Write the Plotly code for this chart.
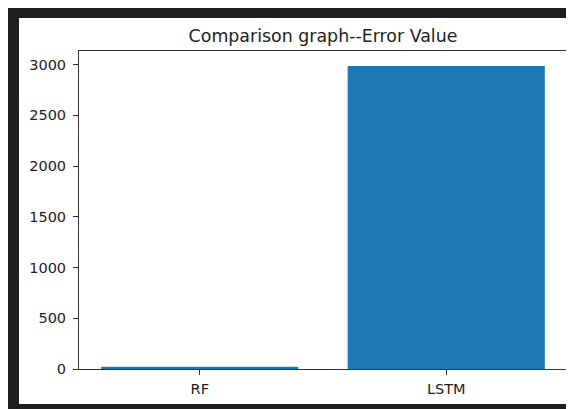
import plotly.graph_objects as go

# Data
models = ["RF", "LSTM"]
error_values = [22, 2985]
y_ticks = [0, 500, 1000, 1500, 2000, 2500, 3000]

# Figure placed at (8, 8) in the page by the default body margin
W, H = 566, 401
L, R, T, B = 71, 559, 43, 361  # plot area in figure pixels

def px_x(x):
    return (x - L) / (R - L)

def px_y(y):
    return (B - y) / (B - T)

fig = go.Figure()
fig.add_trace(go.Bar(
    x=models, y=error_values,
    marker=dict(color="#1f77b4", line=dict(width=0)),
    width=0.8,
))

shapes = []
def rect(x0, y0, x1, y1, color):
    shapes.append(dict(type="rect", xref="paper", yref="paper",
                       x0=px_x(x0), x1=px_x(x1), y0=px_y(y1), y1=px_y(y0),
                       fillcolor=color, line=dict(width=0), layer="below"))

dark = "#1e1e1e"
# dark frame around the picture
rect(0, 0, W, 10, dark)
rect(0, 0, 11, H, dark)
rect(0, 396, W, H, dark)

tick_font = dict(size=14.5, family="DejaVu Sans", color="#222222")

fig.update_layout(
    width=W, height=H,
    margin=dict(l=L, r=W - R, t=T, b=H - B, pad=0),
    paper_bgcolor="white",
    plot_bgcolor="white",
    showlegend=False,
    shapes=shapes,
    font=dict(family="DejaVu Sans", color="#222222", size=14),
    title=dict(text="Comparison graph--Error Value",
               font=dict(family="DejaVu Sans", size=17.4, color="#222222"),
               x=0.5, xref="paper", xanchor="center",
               y=1 - 28 / H, yref="container", yanchor="middle"),
    xaxis=dict(
        range=[-0.49, 1.49],
        showgrid=False, zeroline=False,
        showline=True, linecolor="#333333", linewidth=1, mirror=True,
        ticks="outside", ticklen=5, tickcolor="#333333",
        ticklabelstandoff=2,
        tickfont=tick_font,
    ),
    yaxis=dict(
        range=[0, 3134],
        tickvals=y_ticks, ticktext=[str(v) for v in y_ticks],
        showgrid=False, zeroline=False,
        showline=True, linecolor="#333333", linewidth=1, mirror=True,
        ticks="outside", ticklen=5, tickcolor="#333333",
        ticklabelstandoff=4,
        tickfont=tick_font,
    ),
)

fig.write_html("out.html")
